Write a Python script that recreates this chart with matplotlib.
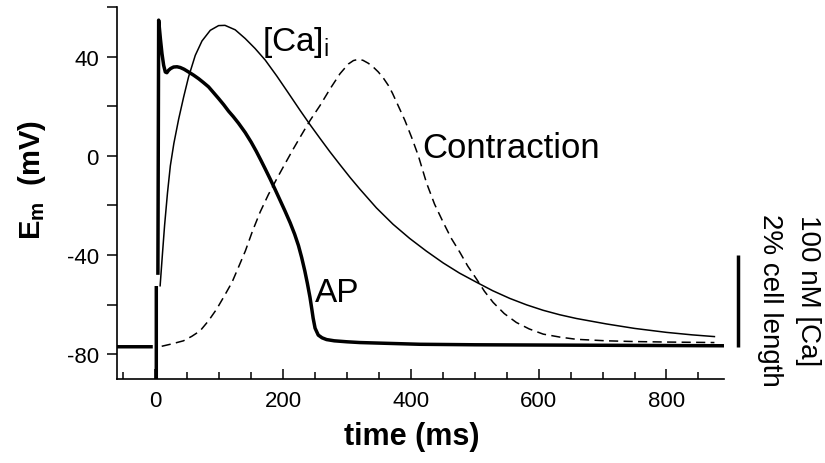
import matplotlib
matplotlib.use("Agg")
import matplotlib.pyplot as plt
import numpy as np

# traces (time in ms, values on the Em scale in mV)
# AP: resting level, stimulus artefact (with its gap), spike, notch, plateau, repolarisation
ap_t = [-60, -4, np.nan, 1.5, 1.5, np.nan, 4, 5.2, 8, 10.4, 13, 15.6, 18, 20.8, 24, 28.6, 34, 39, 45,
        52, 60, 67.7, 75, 83.3, 91, 99, 107, 114.6, 122, 130, 140.6, 150, 158, 165, 172, 180, 187.5,
        195, 203, 211, 218, 224, 229, 234, 238, 242, 245, 247, 250, 255, 261, 268, 280, 300, 320,
        360, 414, 500, 600, 700, 800, 890]
ap_v = [-77, -77, np.nan, -90, -52.5, np.nan, -48, 54.7, 47, 41.2, 36.5, 33.8, 33.5, 34.5, 35.2, 35.8,
        35.9, 35.6, 34.9, 33.8, 32.5, 31.1, 29.6, 27.8, 25.5, 23.1, 20.6, 18, 15.8, 13.2, 9.4, 5.5, 1.8,
        -1.7, -5.3, -9.5, -13.6, -17.8, -22.3, -27, -31.6, -36.2, -41, -46.5, -51.5, -57, -62,
        -65.5, -69.5, -72.3, -73.4, -74.1, -74.6, -75, -75.3, -75.6, -76, -76.2, -76.3, -76.4, -76.5, -76.6]

ca_t = [7.5, 11, 14.5, 19, 23.5, 29, 36.5, 44.3, 52, 62.5, 73, 86, 99, 109, 125, 140.6, 156, 172, 190,
        208, 226.6, 242, 257.8, 273, 289, 305, 320, 346, 372, 398, 424, 450.5, 476, 502.7, 528,
        554.7, 581, 607, 633, 659, 706, 750, 800, 840, 875]
ca_v = [-52.4, -40, -28, -15, -4, 5, 14.8, 23.7, 31.8, 40.5, 46.3, 50.6, 52.5, 52.6, 50.8, 47.3,
        43.3, 38.6, 32.2, 25.4, 18.3, 12.6, 7, 1.7, -3.6, -8.8, -13.4, -21, -27.6, -33.3, -38.4, -43.2,
        -47.3, -51, -54.4, -57.5, -60.1, -62.3, -64.1, -65.6, -67.8, -69.6, -71.2, -72.2, -72.9]

con_t = [10, 25, 44, 57, 70, 83, 96, 108, 120, 130, 141, 152, 164, 177, 190, 203, 216, 226.6, 242,
         257.8, 273.5, 289, 302, 310, 317.8, 325, 333.4, 341, 349, 357, 364.6, 371, 377.6, 384,
         390.7, 401, 411.5, 424.5, 437, 450.5, 463, 476.6, 489, 502.7, 515, 528.6, 546, 565, 585,
         607, 633, 659, 706, 750, 800, 875]
con_v = [-76.8, -75.9, -74.6, -72.8, -70.6, -66.6, -61.8, -56.5, -51, -45, -38.3, -30.4, -22.7, -15.6,
         -9.3, -3.2, 2.8, 7.5, 14.2, 20.3, 27, 33.1, 37, 38.4, 38.9, 38.5, 37.3, 35.8, 33.8, 31.3,
         28.4, 25.3, 21.6, 18, 14.2, 7.5, 0.1, -11, -19.5, -26.8, -33.2, -38.9, -44.5, -49.7, -54.6,
         -59.1, -63.6, -67.2, -69.8, -71.9, -73.1, -74, -74.6, -74.9, -75.1, -75.3]

# calibration bar on the right (100 nM [Ca] / 2% cell length)
scale_bar_t = [912, 912]
scale_bar_v = [-77, -40]

y_major = [-80, -40, 0, 40]
y_minor = [-60, -20, 20, 60]
x_major = [0, 200, 400, 600, 800]

plt.rcParams.update({
    "font.family": ["Liberation Sans", "DejaVu Sans"],
    "axes.unicode_minus": False,
    "mathtext.fontset": "custom",
    "mathtext.rm": "Liberation Sans",
    "mathtext.it": "Liberation Sans:italic",
    "mathtext.bf": "Liberation Sans:bold",
})

fig = plt.figure(figsize=(8.25, 4.64), dpi=100)
ax = fig.add_axes([117 / 825, 1 - 380 / 464, (724 - 117) / 825, (380 - 8) / 464])

ax.plot(con_t, con_v, color="black", lw=1.1, ls=(0, (6, 3.5)))
ax.plot(ca_t, ca_v, color="black", lw=1.1)
ax.plot(ap_t, ap_v, color="black", lw=2.5, solid_capstyle="butt", solid_joinstyle="round")
ax.plot(scale_bar_t, scale_bar_v, color="black", lw=2.5, clip_on=False, solid_capstyle="butt")

ax.set_xlim(-60, 890)
ax.set_ylim(-90, 60)
ax.spines["top"].set_visible(False)
ax.spines["right"].set_visible(False)
for side in ("left", "bottom"):
    ax.spines[side].set_linewidth(1.2)

ax.set_yticks(y_major)
ax.set_yticks(y_minor, minor=True)
ax.set_xticks(x_major)
ax.set_xticks(np.arange(-50, 891, 50), minor=True)
ax.tick_params(axis="y", which="both", direction="out", length=7, width=1.1)
ax.tick_params(axis="y", which="major", labelsize=16, pad=6)
ax.tick_params(axis="x", which="major", direction="in", length=7, width=1.1, labelsize=16, pad=8)
ax.tick_params(axis="x", which="minor", direction="in", length=5, width=1.1)

ax.set_xlabel("time (ms)", fontsize=22, fontweight="bold", va="center")
ax.xaxis.set_label_coords(0.486, -0.153)
ax.set_ylabel(r"$\mathbf{E_m}$  (mV)", fontsize=21, fontweight="bold", va="center")
ax.yaxis.set_label_coords(-0.14, 0.538)

ax.text(167, 42.5, r"[Ca]$_{\rm i}$", fontsize=24, ha="left", va="baseline")
ax.text(417, -0.5, "Contraction", fontsize=25, ha="left", va="baseline")
ax.text(250, -58.6, "AP", fontsize=24, ha="left", va="baseline")

fig.text(808 / 825, 1 - 291 / 464, "100 nM [Ca]", rotation=270, fontsize=20,
         ha="center", va="center")
fig.text(770 / 825, 1 - 300 / 464, "2% cell length", rotation=270, fontsize=20,
         ha="center", va="center")

fig.savefig("out.png", dpi=100)
